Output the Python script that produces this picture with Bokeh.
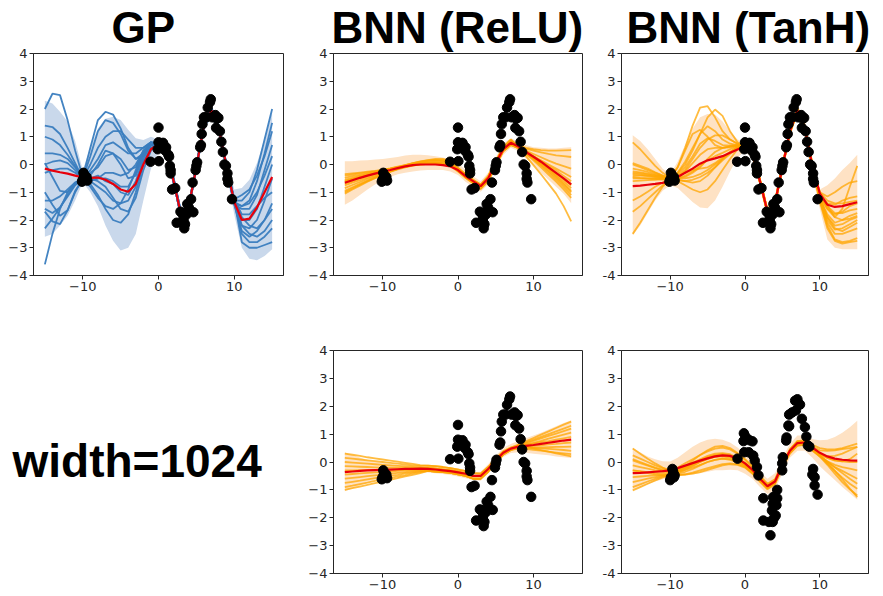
from bokeh.plotting import figure
from bokeh.models import Range1d, FixedTicker
from bokeh.layouts import row, column
from bokeh.embed import file_html
from bokeh.resources import INLINE
from bokeh.core.properties import value

XS = [-15, -14, -13, -12, -11, -10, -9, -8, -7, -6, -5, -4, -3, -2, -1, 0,
      1, 2, 3, 4, 5, 6, 7, 8, 9, 10, 11, 12, 13, 14, 15]

# observed data points (same in first four panels)
DATA_X = [-10.1, -10.0, -9.9, -9.8, -9.5, -9.4,
          -1.05, 0.0, 0.05, -0.1, 0.0, 0.3, 0.6, 0.5, 0.9, 1.0, 1.3, 1.4, 1.5, 1.6, 1.6, 1.8, 2.2,
          2.4, 2.9, 3.1, 3.3, 3.4, 3.5, 3.3, 3.8, 4.0, 4.3, 4.5, 4.6, 3.7,
          4.9, 5.0, 5.1, 5.5, 5.6, 5.7, 5.8, 6.0, 6.3, 6.5, 6.8, 6.9, 7.1, 7.5, 7.7, 7.9, 7.6,
          8.1, 8.3, 8.5, 8.7, 8.9, 9.1, 9.1, 9.2, 9.7]
DATA_Y = [-0.62, -0.55, -0.3, -0.42, -0.45, -0.58,
          0.1, 1.33, 0.12, 0.55, 0.8, 0.75, 0.78, 0.6, 0.5, 0.62, 0.35, 0.28, -0.05, -0.2, -0.32, -0.9, -0.85,
          -2.1, -1.7, -1.75, -1.95, -2.3, -2.15, -2.05, -1.42, -1.55, -1.25, -0.65, -1.72, -1.8,
          -0.2, -0.05, 0.08, 0.62, 0.7, 1.1, 1.45, 1.7, 1.7, 2.05, 2.25, 2.35, 1.7, 1.78, 1.65, 1.68, 1.32,
          1.2, 0.82, 0.45, 0.0, -0.05, -0.32, -0.52, -0.65, -1.25]

# observed data points of the lower-right panel
DATA2_X = [-10.0, -9.9, -9.7, -9.6, -9.5, -9.4,
           -1.0, -0.15, -0.2, 0.1, 1.0, 0.6, -0.1, 0.5, 1.1, 1.3, 1.6, 1.8,
           2.45, 3.75, 4.3, 2.45, 3.2, 3.7, 3.4, 4.1, 3.6, 3.7, 4.3, 4.2, 3.9,
           5.05, 4.97, 4.97, 5.5, 5.55, 5.8, 5.9, 5.9, 6.3, 6.7, 7.0, 7.35, 6.8, 7.6,
           8.0, 8.2, 8.4, 8.6, 9.1, 9.0, 9.3, 9.3, 9.7]
DATA2_Y = [-0.65, -0.55, -0.25, -0.35, -0.55, -0.48,
           0.12, 1.03, 0.75, 0.9, 0.74, 0.78, 0.35, 0.35, 0.23, 0.05, -0.18, -0.48,
           -1.3, -1.26, -1.0, -2.1, -2.15, -2.15, -2.63, -1.92, -1.74, -1.5, -1.3, -1.55, -2.0,
           0.17, -0.05, -0.3, 0.77, 0.88, 1.31, 1.28, 1.7, 1.78, 2.2, 2.25, 2.06, 1.85, 1.55,
           1.25, 0.91, 0.59, 0.55, -0.25, -0.45, -0.55, -0.84, -1.17]

# ---------- GP ----------
GP_MEAN = [-0.15, -0.22, -0.28, -0.33, -0.4, -0.47, -0.48, -0.47, -0.55, -0.7, -0.9, -0.98, -0.7, 0.0, 0.55,
           0.72, 0.5, -0.6, -1.85, -1.5, -0.1, 1.4, 1.95, 1.25, -0.1, -1.35, -2.0, -1.95, -1.55, -1.0, -0.45]
GP_UPPER = [2.3, 2.2, 1.9, 1.55, 0.85, -0.2, 0.6, 1.3, 1.65, 1.72, 1.6, 1.25, 0.95, 0.88, 1.0,
            0.9, 0.75, -0.4, -1.6, -1.3, 0.1, 1.6, 2.15, 1.5, 0.15, -0.9, -0.85, -0.55, 0.05, 0.9, 1.9]
GP_LOWER = [-2.6, -2.5, -2.2, -1.85, -1.3, -0.65, -1.0, -1.5, -2.2, -2.75, -3.1, -3.0, -2.5, -1.3, -0.15,
            0.5, 0.3, -0.8, -2.1, -1.7, -0.3, 1.2, 1.7, 1.0, -0.35, -1.8, -3.0, -3.4, -3.45, -3.3, -3.05]
GP_SAMPLES = [
    [2.0, 2.55, 2.5, 1.6, 0.5, -0.45, 0.6, 1.6, 1.9, 1.8, 1.3, 0.6, 0.2, 0.3, 0.7, 0.75, 0.55, -0.55, -1.8, -1.45, -0.05, 1.45, 2.0, 1.3, -0.05, -1.3, -1.3, -1.0, -0.2, 0.9, 2.0],
    [1.4, 1.35, 1.1, 0.6, 0.05, -0.5, 0.3, 1.2, 1.6, 1.5, 1.1, 0.5, 0.2, 0.4, 0.8, 0.7, 0.45, -0.65, -1.9, -1.55, -0.15, 1.35, 1.9, 1.2, -0.15, -1.4, -1.5, -1.3, -0.6, 0.4, 1.5],
    [0.4, 0.4, 0.35, 0.2, -0.1, -0.5, 0.0, 0.6, 1.0, 1.2, 1.2, 0.9, 0.6, 0.6, 0.8, 0.8, 0.6, -0.5, -1.75, -1.45, -0.05, 1.45, 2.0, 1.3, -0.05, -1.25, -1.1, -0.9, -0.4, 0.3, 1.2],
    [-0.3, -0.2, -0.15, -0.15, -0.3, -0.5, -0.2, 0.2, 0.7, 0.8, 0.6, 0.4, 0.4, 0.6, 0.8, 0.65, 0.45, -0.65, -1.9, -1.55, -0.15, 1.35, 1.9, 1.2, -0.15, -1.45, -1.6, -1.6, -1.1, -0.2, 0.7],
    [-1.3, -1.3, -1.15, -0.9, -0.65, -0.5, -0.3, -0.1, 0.3, 0.4, 0.2, -0.2, -0.1, 0.4, 0.7, 0.72, 0.5, -0.6, -1.85, -1.5, -0.1, 1.4, 1.95, 1.25, -0.1, -1.35, -1.5, -1.4, -1.0, -0.4, 0.3],
    [-1.6, -1.75, -1.55, -1.15, -0.75, -0.5, -0.6, -0.5, -0.3, -0.3, -0.4, -0.3, 0.0, 0.5, 0.8, 0.75, 0.55, -0.55, -1.8, -1.45, -0.05, 1.45, 2.0, 1.3, -0.05, -1.3, -2.0, -2.0, -1.6, -0.8, 0.0],
    [-2.3, -1.95, -1.55, -1.1, -0.7, -0.5, -0.6, -0.5, -0.5, -0.6, -0.8, -0.8, -0.3, 0.4, 0.7, 0.7, 0.45, -0.65, -1.9, -1.55, -0.15, 1.35, 1.9, 1.2, -0.15, -1.4, -2.2, -2.3, -2.0, -1.3, -0.5],
    [-3.6, -2.5, -1.6, -1.0, -0.65, -0.55, -0.8, -1.2, -1.5, -1.6, -1.4, -0.9, -0.2, 0.5, 0.7, 0.8, 0.6, -0.5, -1.75, -1.45, -0.05, 1.45, 2.0, 1.3, -0.05, -1.25, -1.8, -1.8, -1.5, -1.2, -1.0],
    [-1.0, -1.45, -1.85, -1.65, -1.0, -0.5, -0.7, -1.1, -1.6, -2.0, -2.1, -1.8, -1.0, 0.0, 0.6, 0.65, 0.45, -0.65, -1.9, -1.55, -0.15, 1.35, 1.9, 1.2, -0.15, -1.45, -2.4, -2.6, -2.4, -2.0, -1.4],
    [0.05, -0.45, -0.95, -1.0, -0.7, -0.5, -0.5, -0.6, -0.8, -1.2, -1.6, -1.7, -1.2, -0.2, 0.5, 0.72, 0.5, -0.6, -1.85, -1.5, -0.1, 1.4, 1.95, 1.25, -0.1, -1.35, -2.5, -2.8, -2.8, -2.6, -2.3],
    [-1.7, -2.05, -2.15, -1.65, -0.95, -0.55, -0.6, -0.8, -1.0, -1.3, -1.4, -1.3, -0.8, 0.1, 0.6, 0.75, 0.55, -0.55, -1.8, -1.45, -0.05, 1.45, 2.0, 1.3, -0.05, -1.3, -2.8, -3.0, -3.0, -2.9, -2.8],
    [1.0, 0.9, 0.7, 0.35, -0.05, -0.45, -0.5, -0.4, -0.6, -0.7, -1.0, -1.1, -0.6, 0.2, 0.7, 0.7, 0.45, -0.65, -1.9, -1.55, -0.15, 1.35, 1.9, 1.2, -0.15, -1.4, -2.2, -2.5, -2.6, -2.4, -2.0],
    [0.0, 0.1, 0.15, 0.05, -0.2, -0.5, -0.4, 0.0, 0.5, 0.4, 0.0, -0.5, -0.4, 0.3, 0.7, 0.8, 0.6, -0.5, -1.75, -1.45, -0.05, 1.45, 2.0, 1.3, -0.05, -1.25, -1.9, -2.2, -2.3, -2.0, -1.6],
]

# ---------- BNN ReLU (top) ----------
RELU_MEAN = [-0.66, -0.57, -0.48, -0.4, -0.33, -0.26, -0.2, -0.13, -0.07, -0.02, 0.0, 0.0, 0.0, -0.02, -0.07,
             -0.2, -0.42, -0.6, -0.78, -0.5, 0.05, 0.55, 0.78, 0.65, 0.45, 0.28, 0.1, -0.1, -0.3, -0.5, -0.72]
RELU_UPPER = [0.12, 0.12, 0.14, 0.15, 0.18, 0.2, 0.23, 0.27, 0.32, 0.35, 0.35, 0.33, 0.3, 0.25, 0.18,
              0.05, -0.2, -0.42, -0.6, -0.3, 0.25, 0.75, 0.95, 0.82, 0.7, 0.62, 0.6, 0.58, 0.58, 0.6, 0.62]
RELU_LOWER = [-1.45, -1.3, -1.1, -0.9, -0.72, -0.58, -0.45, -0.35, -0.3, -0.25, -0.22, -0.2, -0.2, -0.2, -0.25,
              -0.38, -0.62, -0.8, -0.98, -0.72, -0.15, 0.35, 0.6, 0.48, 0.22, -0.02, -0.3, -0.55, -0.8, -1.05, -1.4]
RELU_SAMPLES = [
    [-1.05, -0.9, -0.76, -0.62, -0.49, -0.37, -0.26, -0.16, -0.08, -0.02, 0.02, 0.04, 0.04, 0.02, -0.03, -0.22, -0.45, -0.65, -0.85, -0.55, 0.0, 0.5, 0.72, 0.6, 0.4, 0.2, -0.01, -0.23, -0.47, -0.73, -1.0],
    [-0.95, -0.82, -0.7, -0.58, -0.46, -0.35, -0.25, -0.16, -0.09, -0.03, 0.0, 0.02, 0.02, 0.0, -0.05, -0.18, -0.4, -0.6, -0.8, -0.5, 0.05, 0.55, 0.8, 0.62, 0.45, 0.3, 0.15, 0.0, -0.15, -0.3, -0.45],
    [-0.85, -0.74, -0.63, -0.52, -0.42, -0.32, -0.23, -0.14, -0.06, 0.0, 0.04, 0.06, 0.06, 0.04, -0.01, -0.15, -0.38, -0.58, -0.75, -0.45, 0.1, 0.6, 0.85, 0.7, 0.6, 0.55, 0.52, 0.5, 0.5, 0.51, 0.52],
    [-0.75, -0.65, -0.56, -0.47, -0.38, -0.3, -0.22, -0.14, -0.07, -0.01, 0.03, 0.05, 0.05, 0.03, -0.02, -0.12, -0.35, -0.55, -0.72, -0.42, 0.12, 0.62, 0.9, 0.65, 0.5, 0.38, 0.26, 0.14, 0.03, -0.06, -0.15],
    [-0.7, -0.6, -0.5, -0.41, -0.33, -0.26, -0.19, -0.12, -0.05, 0.01, 0.05, 0.07, 0.07, 0.05, 0.0, -0.18, -0.4, -0.6, -0.8, -0.5, 0.05, 0.55, 0.8, 0.65, 0.47, 0.3, 0.12, -0.05, -0.22, -0.41, -0.6],
    [-0.62, -0.54, -0.46, -0.39, -0.32, -0.25, -0.18, -0.11, -0.05, 0.0, 0.04, 0.08, 0.1, 0.1, 0.03, -0.25, -0.48, -0.68, -0.88, -0.6, -0.05, 0.48, 0.7, 0.6, 0.42, 0.24, 0.06, -0.12, -0.32, -0.53, -0.75],
    [-0.55, -0.48, -0.41, -0.35, -0.29, -0.23, -0.17, -0.11, -0.05, 0.02, 0.08, 0.12, 0.14, 0.12, 0.05, -0.15, -0.38, -0.58, -0.75, -0.45, 0.1, 0.6, 0.85, 0.68, 0.57, 0.5, 0.44, 0.38, 0.33, 0.3, 0.27],
    [-0.48, -0.42, -0.37, -0.32, -0.27, -0.22, -0.16, -0.1, -0.03, 0.04, 0.1, 0.15, 0.17, 0.15, 0.08, -0.18, -0.4, -0.6, -0.8, -0.5, 0.05, 0.55, 0.8, 0.62, 0.43, 0.24, 0.05, -0.15, -0.38, -0.61, -0.85],
    [-0.4, -0.36, -0.32, -0.28, -0.24, -0.2, -0.15, -0.09, -0.02, 0.05, 0.11, 0.16, 0.2, 0.2, 0.12, -0.12, -0.35, -0.55, -0.72, -0.42, 0.12, 0.62, 0.9, 0.63, 0.42, 0.2, -0.03, -0.28, -0.54, -0.81, -1.1],
    [-0.35, -0.32, -0.29, -0.26, -0.23, -0.19, -0.14, -0.08, -0.02, 0.04, 0.09, 0.13, 0.16, 0.16, 0.1, -0.22, -0.45, -0.65, -0.85, -0.55, 0.0, 0.5, 0.72, 0.58, 0.38, 0.15, -0.1, -0.36, -0.62, -0.9, -1.2],
    [-1.0, -0.86, -0.73, -0.6, -0.48, -0.37, -0.27, -0.18, -0.1, -0.04, 0.0, 0.02, 0.02, 0.0, -0.06, -0.25, -0.48, -0.68, -0.88, -0.6, -0.05, 0.48, 0.7, 0.6, 0.3, -0.02, -0.35, -0.7, -1.05, -1.5, -2.05],
    [-0.6, -0.52, -0.45, -0.39, -0.33, -0.27, -0.21, -0.14, -0.08, -0.03, 0.01, 0.03, 0.04, 0.03, -0.02, -0.18, -0.4, -0.6, -0.8, -0.5, 0.05, 0.55, 0.8, 0.64, 0.45, 0.26, 0.05, -0.17, -0.42, -0.68, -0.95],
]

# ---------- BNN TanH (top) ----------
TANH_MEAN = [-0.78, -0.76, -0.73, -0.7, -0.66, -0.6, -0.45, -0.3, -0.15, 0.03, 0.15, 0.22, 0.3, 0.42, 0.54,
             0.66, 0.4, -0.6, -1.7, -1.4, -0.1, 1.2, 1.95, 1.3, -0.05, -1.05, -1.45, -1.53, -1.5, -1.43, -1.36]
TANH_UPPER = [1.05, 0.85, 0.55, 0.2, -0.15, -0.35, 0.1, 0.7, 1.3, 1.7, 1.82, 1.8, 1.55, 1.2, 0.9,
              0.8, 0.6, -0.4, -1.45, -1.2, 0.1, 1.4, 2.15, 1.6, 0.25, -0.9, -0.75, -0.5, -0.2, 0.05, 0.35]
TANH_LOWER = [-2.55, -2.2, -1.75, -1.3, -0.95, -0.75, -0.85, -1.1, -1.35, -1.55, -1.58, -1.3, -0.8, -0.25, 0.25,
              0.5, 0.2, -0.85, -1.95, -1.65, -0.35, 1.0, 1.75, 1.0, -0.4, -1.6, -2.7, -3.0, -3.05, -3.05, -3.05]
TANH_SAMPLES = [
    [0.8, 0.55, 0.25, -0.05, -0.3, -0.5, -0.1, 0.6, 1.4, 2.05, 2.1, 1.7, 1.2, 0.9, 0.75, 0.7, 0.45, -0.55, -1.65, -1.35, -0.05, 1.25, 2.0, 1.35, 0.0, -1.05, -1.5, -1.9, -1.6, -0.8, -0.05],
    [0.05, -0.05, -0.15, -0.28, -0.4, -0.5, -0.3, 0.0, 0.5, 1.1, 1.7, 1.98, 1.75, 1.2, 0.8, 0.62, 0.35, -0.65, -1.75, -1.45, -0.15, 1.15, 1.9, 1.25, -0.1, -1.0, -1.15, -1.0, -0.8, -0.65, -0.6],
    [-0.15, -0.2, -0.27, -0.35, -0.43, -0.5, -0.1, 0.5, 1.1, 1.25, 1.0, 0.7, 0.6, 0.65, 0.7, 0.66, 0.4, -0.6, -1.7, -1.4, -0.1, 1.2, 1.95, 1.3, -0.05, -1.1, -1.4, -1.45, -1.3, -1.2, -1.15],
    [-0.3, -0.32, -0.36, -0.4, -0.45, -0.52, -0.3, 0.1, 0.6, 1.1, 1.38, 1.2, 0.9, 0.75, 0.7, 0.7, 0.45, -0.55, -1.65, -1.35, -0.05, 1.25, 2.0, 1.35, 0.0, -1.15, -1.6, -1.8, -1.7, -1.5, -1.4],
    [-0.4, -0.4, -0.42, -0.45, -0.48, -0.52, -0.4, -0.2, 0.2, 0.6, 0.9, 1.05, 1.05, 0.9, 0.75, 0.62, 0.35, -0.65, -1.75, -1.45, -0.15, 1.15, 1.9, 1.25, -0.1, -1.1, -1.5, -1.75, -1.75, -1.65, -1.6],
    [-0.5, -0.5, -0.5, -0.5, -0.5, -0.5, -0.5, -0.45, -0.3, -0.1, 0.2, 0.45, 0.6, 0.65, 0.68, 0.66, 0.4, -0.6, -1.7, -1.4, -0.1, 1.2, 1.95, 1.3, -0.05, -1.2, -1.8, -2.1, -2.0, -1.85, -1.75],
    [-0.6, -0.58, -0.56, -0.55, -0.53, -0.52, -0.55, -0.6, -0.65, -0.6, -0.4, -0.1, 0.2, 0.45, 0.62, 0.7, 0.45, -0.55, -1.65, -1.35, -0.05, 1.25, 2.0, 1.35, 0.0, -1.2, -1.9, -2.2, -2.15, -2.0, -1.9],
    [-1.3, -1.15, -0.98, -0.8, -0.65, -0.52, -0.45, -0.3, -0.2, -0.15, -0.1, 0.05, 0.25, 0.45, 0.62, 0.62, 0.35, -0.65, -1.75, -1.45, -0.15, 1.15, 1.9, 1.25, -0.1, -1.25, -2.0, -2.35, -2.3, -2.15, -2.0],
    [-1.7, -1.5, -1.25, -1.0, -0.75, -0.55, -0.6, -0.75, -0.9, -1.0, -0.9, -0.6, -0.2, 0.2, 0.55, 0.66, 0.4, -0.6, -1.7, -1.4, -0.1, 1.2, 1.95, 1.3, -0.05, -1.3, -2.1, -2.5, -2.5, -2.4, -2.3],
    [-2.5, -2.1, -1.65, -1.2, -0.8, -0.55, -0.5, -0.5, -0.45, -0.35, -0.2, 0.0, 0.2, 0.42, 0.6, 0.7, 0.45, -0.55, -1.65, -1.35, -0.05, 1.25, 2.0, 1.35, 0.0, -1.3, -2.2, -2.7, -2.8, -2.75, -2.65],
    [-0.25, -0.28, -0.33, -0.38, -0.43, -0.48, -0.45, -0.25, 0.05, 0.35, 0.55, 0.6, 0.6, 0.62, 0.66, 0.62, 0.35, -0.65, -1.75, -1.45, -0.15, 1.15, 1.9, 1.25, -0.1, -1.35, -2.3, -2.75, -2.85, -2.8, -2.75],
    [-0.45, -0.48, -0.5, -0.52, -0.54, -0.55, -0.55, -0.6, -0.55, -0.45, -0.3, -0.1, 0.15, 0.38, 0.58, 0.66, 0.4, -0.6, -1.7, -1.4, -0.1, 1.2, 1.95, 1.3, -0.05, -1.1, -1.6, -1.9, -2.0, -1.95, -1.85],
    [0.0, -0.1, -0.2, -0.3, -0.4, -0.48, -0.35, -0.1, 0.3, 0.75, 0.95, 0.85, 0.7, 0.68, 0.7, 0.7, 0.45, -0.55, -1.65, -1.35, -0.05, 1.25, 2.0, 1.35, 0.0, -1.2, -1.9, -2.3, -2.4, -2.25, -2.1],
    [-0.35, -0.37, -0.4, -0.44, -0.48, -0.5, -0.5, -0.4, -0.25, -0.05, 0.15, 0.3, 0.42, 0.55, 0.65, 0.62, 0.35, -0.65, -1.75, -1.45, -0.15, 1.15, 1.9, 1.25, -0.1, -1.0, -1.3, -1.4, -1.4, -1.35, -1.3],
]

# ---------- BNN ReLU, width=1024 ----------
RELU2_MEAN = [-0.36, -0.34, -0.32, -0.3, -0.29, -0.28, -0.27, -0.26, -0.25, -0.25, -0.24, -0.25, -0.27, -0.3, -0.33,
              -0.37, -0.42, -0.5, -0.5, -0.25, 0.05, 0.33, 0.48, 0.55, 0.58, 0.61, 0.65, 0.69, 0.73, 0.77, 0.8]
RELU2_UPPER = [0.35, 0.25, 0.16, 0.08, 0.02, -0.03, -0.07, -0.1, -0.12, -0.12, -0.12, -0.13, -0.15, -0.17, -0.2,
               -0.22, -0.28, -0.37, -0.35, -0.08, 0.22, 0.5, 0.65, 0.75, 0.85, 0.95, 1.05, 1.17, 1.28, 1.4, 1.5]
RELU2_LOWER = [-1.05, -0.95, -0.85, -0.75, -0.65, -0.57, -0.5, -0.45, -0.42, -0.4, -0.38, -0.38, -0.4, -0.43, -0.47,
               -0.52, -0.58, -0.65, -0.67, -0.42, -0.1, 0.18, 0.32, 0.35, 0.33, 0.3, 0.27, 0.24, 0.2, 0.17, 0.14]
RELU2_SAMPLES = [
    [0.3, 0.26, 0.22, 0.17, 0.13, 0.09, 0.05, 0.01, -0.03, -0.07, -0.11, -0.13, -0.15, -0.18, -0.22, -0.27, -0.33, -0.4, -0.42, -0.18, 0.12, 0.38, 0.52, 0.6, 0.55, 0.49, 0.43, 0.37, 0.31, 0.26, 0.2],
    [0.15, 0.12, 0.09, 0.06, 0.03, 0.0, -0.03, -0.06, -0.09, -0.12, -0.15, -0.13, -0.15, -0.18, -0.22, -0.27, -0.33, -0.4, -0.42, -0.18, 0.12, 0.38, 0.52, 0.62, 0.74, 0.86, 0.98, 1.1, 1.22, 1.34, 1.45],
    [0.0, -0.02, -0.04, -0.06, -0.08, -0.1, -0.12, -0.14, -0.16, -0.18, -0.2, -0.22, -0.24, -0.27, -0.3, -0.35, -0.41, -0.5, -0.5, -0.26, 0.05, 0.33, 0.48, 0.55, 0.53, 0.51, 0.49, 0.47, 0.45, 0.43, 0.4],
    [-0.15, -0.16, -0.17, -0.18, -0.19, -0.2, -0.2, -0.21, -0.21, -0.22, -0.22, -0.22, -0.24, -0.27, -0.3, -0.35, -0.41, -0.5, -0.5, -0.26, 0.05, 0.33, 0.48, 0.58, 0.67, 0.76, 0.85, 0.94, 1.02, 1.11, 1.2],
    [-0.3, -0.3, -0.29, -0.29, -0.28, -0.28, -0.27, -0.27, -0.26, -0.26, -0.25, -0.22, -0.24, -0.27, -0.3, -0.35, -0.41, -0.5, -0.5, -0.26, 0.05, 0.33, 0.48, 0.52, 0.55, 0.57, 0.6, 0.63, 0.65, 0.68, 0.7],
    [-0.45, -0.43, -0.41, -0.39, -0.37, -0.36, -0.34, -0.32, -0.3, -0.28, -0.27, -0.22, -0.24, -0.27, -0.3, -0.35, -0.41, -0.5, -0.5, -0.26, 0.05, 0.33, 0.48, 0.55, 0.62, 0.69, 0.76, 0.84, 0.91, 0.98, 1.05],
    [-0.6, -0.57, -0.54, -0.51, -0.48, -0.45, -0.42, -0.39, -0.36, -0.33, -0.3, -0.32, -0.34, -0.36, -0.39, -0.44, -0.5, -0.6, -0.6, -0.34, -0.02, 0.27, 0.43, 0.5, 0.47, 0.44, 0.41, 0.37, 0.34, 0.31, 0.28],
    [-0.75, -0.71, -0.67, -0.62, -0.58, -0.54, -0.5, -0.46, -0.41, -0.37, -0.33, -0.32, -0.34, -0.36, -0.39, -0.44, -0.5, -0.6, -0.6, -0.34, -0.02, 0.27, 0.43, 0.56, 0.61, 0.66, 0.71, 0.75, 0.8, 0.85, 0.9],
    [-0.9, -0.85, -0.79, -0.74, -0.68, -0.63, -0.58, -0.52, -0.47, -0.41, -0.36, -0.32, -0.34, -0.36, -0.39, -0.44, -0.5, -0.6, -0.6, -0.34, -0.02, 0.27, 0.43, 0.6, 0.7, 0.8, 0.9, 1.0, 1.1, 1.2, 1.3],
    [-1.0, -0.94, -0.88, -0.82, -0.76, -0.7, -0.64, -0.58, -0.52, -0.46, -0.4, -0.32, -0.34, -0.36, -0.39, -0.44, -0.5, -0.6, -0.6, -0.34, -0.02, 0.27, 0.43, 0.5, 0.51, 0.51, 0.52, 0.53, 0.54, 0.54, 0.55],
]

# ---------- BNN TanH, width=1024 ----------
TANH2_MEAN = [-0.4, -0.39, -0.37, -0.35, -0.33, -0.3, -0.22, -0.13, -0.04, 0.05, 0.13, 0.2, 0.24, 0.22, 0.12,
              -0.05, -0.28, -0.6, -0.87, -0.7, -0.1, 0.4, 0.68, 0.7, 0.52, 0.33, 0.2, 0.12, 0.08, 0.06, 0.05]
TANH2_UPPER = [0.5, 0.35, 0.2, 0.1, 0.03, 0.02, 0.15, 0.35, 0.55, 0.7, 0.8, 0.83, 0.8, 0.7, 0.52,
               0.3, 0.0, -0.35, -0.6, -0.4, 0.15, 0.65, 0.95, 0.95, 0.82, 0.78, 0.8, 0.9, 1.05, 1.25, 1.48]
TANH2_LOWER = [-1.0, -0.9, -0.8, -0.7, -0.62, -0.55, -0.5, -0.48, -0.45, -0.4, -0.35, -0.3, -0.3, -0.28, -0.3,
               -0.42, -0.6, -0.9, -1.15, -1.0, -0.4, 0.15, 0.4, 0.4, 0.15, -0.15, -0.4, -0.65, -0.9, -1.12, -1.35]
TANH2_SAMPLES = [
    [0.48, 0.3, 0.12, -0.05, -0.2, -0.3, -0.2, -0.05, 0.1, 0.25, 0.38, 0.48, 0.52, 0.45, 0.3, 0.1, -0.15, -0.5, -0.78, -0.62, -0.05, 0.45, 0.75, 0.78, 0.62, 0.5, 0.45, 0.45, 0.5, 0.58, 0.66],
    [0.24, 0.12, 0.0, -0.12, -0.22, -0.32, -0.25, -0.15, -0.02, 0.1, 0.22, 0.3, 0.32, 0.28, 0.15, -0.02, -0.25, -0.58, -0.85, -0.7, -0.12, 0.38, 0.65, 0.7, 0.55, 0.42, 0.4, 0.42, 0.46, 0.5, 0.54],
    [0.06, -0.04, -0.13, -0.22, -0.3, -0.36, -0.3, -0.2, -0.08, 0.05, 0.16, 0.24, 0.28, 0.24, 0.12, -0.05, -0.3, -0.62, -0.9, -0.72, -0.12, 0.4, 0.7, 0.72, 0.5, 0.3, 0.15, 0.05, 0.02, 0.1, 0.3],
    [-0.12, -0.18, -0.24, -0.3, -0.35, -0.4, -0.35, -0.28, -0.2, -0.1, 0.0, 0.08, 0.12, 0.1, 0.02, -0.12, -0.35, -0.65, -0.92, -0.75, -0.15, 0.35, 0.62, 0.65, 0.45, 0.28, 0.15, 0.07, 0.02, 0.0, 0.0],
    [-0.3, -0.33, -0.36, -0.39, -0.42, -0.45, -0.45, -0.45, -0.42, -0.36, -0.28, -0.2, -0.12, -0.08, -0.1, -0.2, -0.42, -0.7, -0.95, -0.78, -0.18, 0.32, 0.6, 0.62, 0.4, 0.2, 0.02, -0.1, -0.18, -0.24, -0.3],
    [-0.54, -0.52, -0.5, -0.48, -0.47, -0.46, -0.42, -0.35, -0.25, -0.12, 0.0, 0.08, 0.12, 0.08, -0.02, -0.15, -0.38, -0.66, -0.92, -0.75, -0.15, 0.38, 0.66, 0.68, 0.45, 0.22, 0.0, -0.18, -0.32, -0.46, -0.6],
    [-0.72, -0.66, -0.6, -0.54, -0.49, -0.45, -0.38, -0.28, -0.15, 0.0, 0.12, 0.2, 0.22, 0.18, 0.06, -0.1, -0.32, -0.62, -0.88, -0.72, -0.12, 0.4, 0.7, 0.72, 0.5, 0.25, 0.02, -0.2, -0.4, -0.6, -0.78],
    [-0.9, -0.8, -0.7, -0.6, -0.52, -0.45, -0.35, -0.22, -0.08, 0.06, 0.18, 0.25, 0.28, 0.22, 0.1, -0.08, -0.3, -0.6, -0.86, -0.7, -0.1, 0.42, 0.72, 0.72, 0.48, 0.22, -0.05, -0.32, -0.56, -0.78, -0.96],
    [-1.02, -0.9, -0.78, -0.66, -0.55, -0.46, -0.32, -0.15, 0.05, 0.25, 0.42, 0.55, 0.58, 0.5, 0.32, 0.08, -0.18, -0.52, -0.8, -0.64, -0.05, 0.45, 0.75, 0.76, 0.5, 0.2, -0.1, -0.42, -0.72, -0.98, -1.2],
    [-0.3, -0.35, -0.4, -0.44, -0.47, -0.5, -0.48, -0.44, -0.38, -0.3, -0.22, -0.15, -0.08, -0.05, -0.08, -0.18, -0.4, -0.7, -0.98, -0.8, -0.2, 0.3, 0.58, 0.62, 0.42, 0.2, -0.05, -0.32, -0.62, -0.95, -1.26],
    [0.1, 0.0, -0.1, -0.2, -0.28, -0.35, -0.3, -0.22, -0.12, 0.0, 0.1, 0.18, 0.2, 0.15, 0.05, -0.1, -0.32, -0.62, -0.88, -0.72, -0.12, 0.4, 0.68, 0.7, 0.48, 0.28, 0.2, 0.22, 0.3, 0.42, 0.54],
]

TITLES = ["GP", "BNN (ReLU)", "BNN (TanH)"]
SIDE_TEXT = ["width=1024"]

X_TICKS = [-10, 0, 10]
Y_TICKS = [-4, -3, -2, -1, 0, 1, 2, 3, 4]
X_LABELS = ["\u221210", "0", "10"]
Y_LABELS_MINUS = ["\u22124", "\u22123", "\u22122", "\u22121", "0", "1", "2", "3", "4"]
Y_LABELS_HYPHEN = ["-4", "-3", "-2", "-1", "0", "1", "2", "3", "4"]

BLUE = "#3a7dbf"
BLUE_BAND = "#c9d8eb"
ORANGE = "#ffa500"
ORANGE_BAND = "#fee2c4"
RED = "#e8000b"
AX = "#262626"
BIG_FONT = "Liberation Sans"


def panel(width, height, bl, br, bt, bb, ylabels):
    p = figure(width=width, height=height, x_range=Range1d(-16.5, 16.5), y_range=Range1d(-4, 4),
               output_backend="svg", toolbar_location=None,
               min_border_left=bl, min_border_right=br, min_border_top=bt, min_border_bottom=bb)
    p.xgrid.visible = False
    p.ygrid.visible = False
    p.outline_line_color = AX
    p.outline_line_width = 1
    p.background_fill_color = "white"
    p.border_fill_color = "white"
    p.xaxis.ticker = FixedTicker(ticks=X_TICKS)
    p.yaxis.ticker = FixedTicker(ticks=Y_TICKS)
    p.xaxis.major_label_overrides = {t: s for t, s in zip(X_TICKS, X_LABELS)}
    p.yaxis.major_label_overrides = {t: s for t, s in zip(Y_TICKS, ylabels)}
    for ax in (p.xaxis[0], p.yaxis[0]):
        ax.axis_line_color = AX
        ax.major_tick_line_color = AX
        ax.major_tick_in = 0
        ax.major_tick_out = 4
        ax.minor_tick_line_color = None
        ax.major_label_text_font = "DejaVu Sans"
        ax.major_label_text_font_size = "13px"
        ax.major_label_text_color = AX
        ax.major_label_standoff = 2
    return p


def draw(p, mean, upper, lower, samples, dx, dy, line_color, band_color, line_alpha):
    p.varea(x=XS, y1=lower, y2=upper, fill_color=band_color, fill_alpha=1.0)
    for s in samples:
        p.line(XS, s, line_color=line_color, line_width=1.8, line_alpha=line_alpha)
    p.line(XS, mean, line_color=RED, line_width=2.2)
    p.scatter(dx, dy, size=9.5, fill_color="black", line_color="black")


def set_title(p, text, offset):
    p.title.text = text
    p.title.align = "left"
    p.title.offset = offset
    p.title.standoff = 0
    p.title.vertical_align = "top"
    p.title.text_font = BIG_FONT
    p.title.text_font_style = "bold"
    p.title.text_font_size = "44px"
    p.title.text_color = "black"


TOP_H = 298
BOT_H = 297

p1 = panel(300, TOP_H, 33, 17, 53, 23, Y_LABELS_MINUS)
draw(p1, GP_MEAN, GP_UPPER, GP_LOWER, GP_SAMPLES, DATA_X, DATA_Y, BLUE, BLUE_BAND, 0.95)
set_title(p1, TITLES[0], 78)

p2 = panel(290, TOP_H, 33, 8, 53, 23, Y_LABELS_MINUS)
draw(p2, RELU_MEAN, RELU_UPPER, RELU_LOWER, RELU_SAMPLES, DATA_X, DATA_Y, ORANGE, ORANGE_BAND, 0.75)
set_title(p2, TITLES[1], -2)

p3 = panel(292, TOP_H, 31, 14, 53, 23, Y_LABELS_HYPHEN)
draw(p3, TANH_MEAN, TANH_UPPER, TANH_LOWER, TANH_SAMPLES, DATA_X, DATA_Y, ORANGE, ORANGE_BAND, 0.75)
set_title(p3, TITLES[2], 5)

ptext = figure(width=300, height=BOT_H, x_range=Range1d(0, 300), y_range=Range1d(0, BOT_H),
               output_backend="svg", toolbar_location=None, x_axis_location=None, y_axis_location=None,
               min_border=0)
ptext.xgrid.visible = False
ptext.ygrid.visible = False
ptext.outline_line_color = None
ptext.text(x=[12], y=[150], text=SIDE_TEXT, text_align="left", text_baseline="alphabetic",
           text_font=value(BIG_FONT), text_font_style="bold", text_font_size="46px",
           text_color="black")

p4 = panel(290, BOT_H, 33, 8, 52, 22, Y_LABELS_MINUS)
draw(p4, RELU2_MEAN, RELU2_UPPER, RELU2_LOWER, RELU2_SAMPLES, DATA_X, DATA_Y, ORANGE, ORANGE_BAND, 0.75)

p5 = panel(292, BOT_H, 31, 14, 52, 22, Y_LABELS_HYPHEN)
draw(p5, TANH2_MEAN, TANH2_UPPER, TANH2_LOWER, TANH2_SAMPLES, DATA2_X, DATA2_Y, ORANGE, ORANGE_BAND, 0.75)

layout = column(row(p1, p2, p3), row(ptext, p4, p5))

open("out.html", "w").write(file_html(layout, INLINE))
